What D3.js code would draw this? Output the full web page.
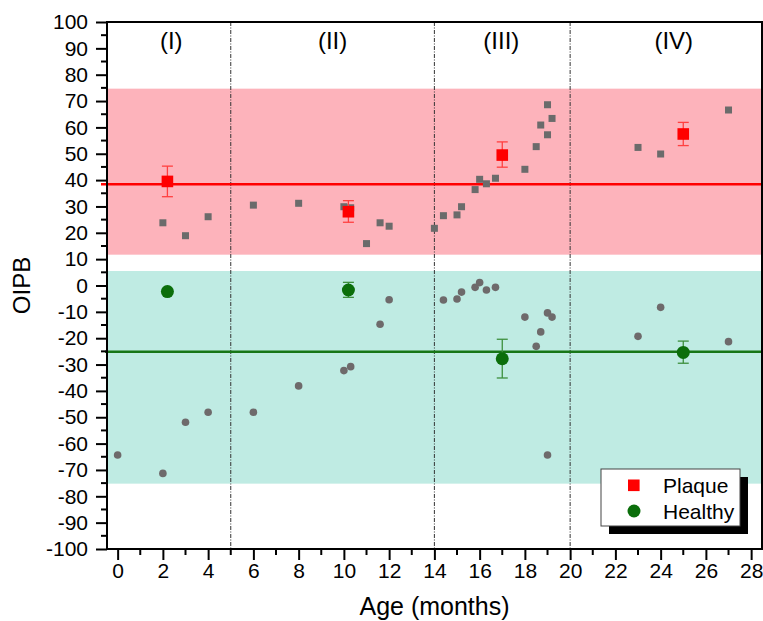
<!DOCTYPE html>
<html lang="en">
  <head>
    <meta charset="utf-8">
    <title>OIPB vs age</title>
    <script src="https://d3js.org/d3.v7.min.js"></script>
    <style>
      body { margin: 0; background: #fff; }
      text { font-family: "Liberation Sans", Arial, sans-serif; fill: #000; }
    </style>
  </head>
  <body>
    <div id="chart"></div>
    <script>
      // individual samples (grey)
      var plaqueAge = [2, 3, 4, 6, 8, 10, 10.3, 11, 11.6, 12, 14, 14.4, 15, 15.2, 15.8, 16, 16.3, 16.7, 18, 18.5, 18.7, 19, 19, 19.2, 23, 24, 27];
      var plaqueVal = [23.8, 18.9, 26.1, 30.5, 31.2, 29.9, 29.5, 15.9, 23.8, 22.5, 21.7, 26.5, 26.8, 29.9, 36.4, 40.3, 38.6, 40.7, 44.1, 52.7, 60.9, 57.2, 68.6, 63.4, 52.4, 49.9, 66.6];
      var healthyAge = [0, 2, 3, 4, 6, 8, 10, 10.3, 11.6, 12, 14.4, 15, 15.2, 15.8, 16, 16.3, 16.7, 18, 18.5, 18.7, 19, 19.2, 19, 23, 24, 27];
      var healthyVal = [-64.3, -71.3, -51.9, -48.1, -48.1, -38.1, -32.3, -30.8, -14.7, -5.4, -5.5, -5.1, -2.5, -0.7, 1.1, -1.7, -0.7, -12.0, -23.1, -17.6, -10.4, -12.0, -64.3, -19.3, -8.3, -21.3];

      // group means with error bars
      var meanAge = [2.2, 10.2, 17, 25];
      var plaqueMean = [39.5, 28.0, 49.5, 57.5];
      var plaqueLow = [33.7, 24.0, 44.9, 53.1];
      var plaqueHigh = [45.3, 32.2, 54.5, 61.9];
      var healthyMean = [-2.3, -1.7, -27.8, -25.4];
      var healthyLow = [-2.3, -4.5, -35.1, -29.5];
      var healthyHigh = [-2.3, 1.2, -20.4, -21.1];

      // overall levels, shaded ranges, periods
      var plaqueLevel = 38.4, healthyLevel = -25.1;
      var plaqueBand = [11.7, 74.7], healthyBand = [-75.2, 5.5];
      var periodBounds = [5, 14, 20];
      var periodNames = ["(I)", "(II)", "(III)", "(IV)"];
      var periodCenters = [2.37, 9.5, 16.96, 24.58];
      var xTicks = d3.range(0, 29, 2), yTicks = d3.range(-100, 101, 10);

      var width = 763, height = 621;
      var pL = 107, pR = 762, pT = 22, pB = 549;
      var fontFam = "'Liberation Sans', Arial, sans-serif";

      var svg = d3.select("#chart").append("svg")
          .attr("width", width)
          .attr("height", height);

      var x = d3.scaleLinear().domain([-0.47, 28.48]).range([pL, pR]);
      var y = d3.scaleLinear().domain([-100, 100]).range([pB, pT]);

      // shaded bands
      svg.append("rect")
          .attr("x", pL).attr("width", pR - pL)
          .attr("y", y(plaqueBand[1])).attr("height", y(plaqueBand[0]) - y(plaqueBand[1]))
          .attr("fill", "#fdb3bb");
      svg.append("rect")
          .attr("x", pL).attr("width", pR - pL)
          .attr("y", y(healthyBand[1])).attr("height", y(healthyBand[0]) - y(healthyBand[1]))
          .attr("fill", "#bfebe3");

      // period separators
      svg.selectAll(".sep")
          .data(periodBounds)
          .enter().append("line")
          .attr("x1", function(d) { return x(d); })
          .attr("x2", function(d) { return x(d); })
          .attr("y1", pT).attr("y2", pB)
          .attr("stroke", "#333").attr("stroke-width", 1)
          .attr("stroke-dasharray", "4,1.5,1,1.5");

      svg.selectAll(".period")
          .data(periodNames)
          .enter().append("text")
          .attr("x", function(d, i) { return x(periodCenters[i]); })
          .attr("y", 49)
          .attr("text-anchor", "middle")
          .style("font-size", "24px")
          .text(function(d) { return d; });

      // mean levels
      svg.append("line")
          .attr("x1", pL - 6).attr("x2", pR)
          .attr("y1", y(plaqueLevel)).attr("y2", y(plaqueLevel))
          .attr("stroke", "#ff0000").attr("stroke-width", 2.5);
      svg.append("line")
          .attr("x1", pL - 2).attr("x2", pR)
          .attr("y1", y(healthyLevel)).attr("y2", y(healthyLevel))
          .attr("stroke", "#177617").attr("stroke-width", 2.5);

      // grey individual points
      svg.selectAll(".psq")
          .data(plaqueAge)
          .enter().append("rect")
          .attr("x", function(d) { return x(d) - 3.5; })
          .attr("y", function(d, i) { return y(plaqueVal[i]) - 3.5; })
          .attr("width", 7).attr("height", 7)
          .attr("fill", "#6b6b6b");
      svg.selectAll(".hci")
          .data(healthyAge)
          .enter().append("circle")
          .attr("cx", function(d) { return x(d); })
          .attr("cy", function(d, i) { return y(healthyVal[i]); })
          .attr("r", 3.8)
          .attr("fill", "#6e6a6b");

      // error bars
      function errorBars(low, high, color) {
        var g = svg.append("g").selectAll("g").data(meanAge).enter().append("g")
            .attr("stroke", color).attr("stroke-width", 1.3).attr("fill", "none");
        g.append("line")
            .attr("x1", function(d) { return x(d); }).attr("x2", function(d) { return x(d); })
            .attr("y1", function(d, i) { return y(low[i]); })
            .attr("y2", function(d, i) { return y(high[i]); });
        g.append("line")
            .attr("x1", function(d) { return x(d) - 5.5; }).attr("x2", function(d) { return x(d) + 5.5; })
            .attr("y1", function(d, i) { return y(low[i]); })
            .attr("y2", function(d, i) { return y(low[i]); });
        g.append("line")
            .attr("x1", function(d) { return x(d) - 5.5; }).attr("x2", function(d) { return x(d) + 5.5; })
            .attr("y1", function(d, i) { return y(high[i]); })
            .attr("y2", function(d, i) { return y(high[i]); });
      }
      errorBars(plaqueLow, plaqueHigh, "#ff4040");
      errorBars(healthyLow, healthyHigh, "#3d8f3d");

      // mean markers
      svg.append("g").selectAll("rect")
          .data(meanAge)
          .enter().append("rect")
          .attr("x", function(d) { return x(d) - 5.8; })
          .attr("y", function(d, i) { return y(plaqueMean[i]) - 5.8; })
          .attr("width", 11.6).attr("height", 11.6)
          .attr("fill", "#ff0000");
      svg.append("g").selectAll("circle")
          .data(meanAge)
          .enter().append("circle")
          .attr("cx", function(d) { return x(d); })
          .attr("cy", function(d, i) { return y(healthyMean[i]); })
          .attr("r", 6.5)
          .attr("fill", "#0b6e0b");

      // frame
      svg.append("rect")
          .attr("x", pL).attr("y", pT)
          .attr("width", pR - pL).attr("height", pB - pT)
          .attr("fill", "none").attr("stroke", "#000").attr("stroke-width", 2);

      // axes
      var xAxis = svg.append("g")
          .attr("transform", "translate(0," + pB + ")")
          .call(d3.axisBottom(x).tickValues(xTicks).tickSize(11).tickPadding(3).tickFormat(function(d) { return String(d); }));
      xAxis.append("g").selectAll("line")
          .data(d3.range(1, 29, 2))
          .enter().append("line")
          .attr("x1", function(d) { return x(d); }).attr("x2", function(d) { return x(d); })
          .attr("y1", 0).attr("y2", 6)
          .attr("stroke", "#000").attr("stroke-width", 2);

      var yAxis = svg.append("g")
          .attr("transform", "translate(" + pL + ",0)")
          .call(d3.axisLeft(y).tickValues(yTicks).tickSize(11).tickPadding(8).tickFormat(function(d) { return String(d); }));
      yAxis.append("g").selectAll("line")
          .data(d3.range(-95, 100, 10))
          .enter().append("line")
          .attr("y1", function(d) { return y(d); }).attr("y2", function(d) { return y(d); })
          .attr("x1", 0).attr("x2", -6)
          .attr("stroke", "#000").attr("stroke-width", 2);

      [xAxis, yAxis].forEach(function(a) {
        a.attr("font-family", fontFam).attr("font-size", 21);
        a.select(".domain").remove();
        a.selectAll(".tick line").attr("stroke", "#000").attr("stroke-width", 2);
        a.selectAll(".tick text").attr("fill", "#000");
      });

      // axis titles
      svg.append("text")
          .attr("x", (pL + pR) / 2).attr("y", 615)
          .attr("text-anchor", "middle")
          .style("font-size", "25px")
          .text("Age (months)");
      svg.append("text")
          .attr("transform", "translate(30," + (pT + pB) / 2 + ") rotate(-90)")
          .attr("text-anchor", "middle")
          .style("font-size", "24px")
          .text("OIPB");

      // legend with drop shadow
      var lg = svg.append("g").attr("transform", "translate(601,469)");
      lg.append("rect").attr("x", 8).attr("y", 8).attr("width", 139).attr("height", 57).attr("fill", "#000");
      lg.append("rect").attr("width", 139).attr("height", 57)
          .attr("fill", "#fff").attr("stroke", "#444").attr("stroke-width", 1);
      lg.append("rect").attr("x", 27).attr("y", 10.5).attr("width", 11.6).attr("height", 11.6).attr("fill", "#ff0000");
      lg.append("circle").attr("cx", 33).attr("cy", 42).attr("r", 6.5).attr("fill", "#0b6e0b");
      lg.append("text").attr("x", 62).attr("y", 23.5).style("font-size", "21px").text("Plaque");
      lg.append("text").attr("x", 62).attr("y", 49.5).style("font-size", "21px").text("Healthy");
    </script>
  </body>
</html>
